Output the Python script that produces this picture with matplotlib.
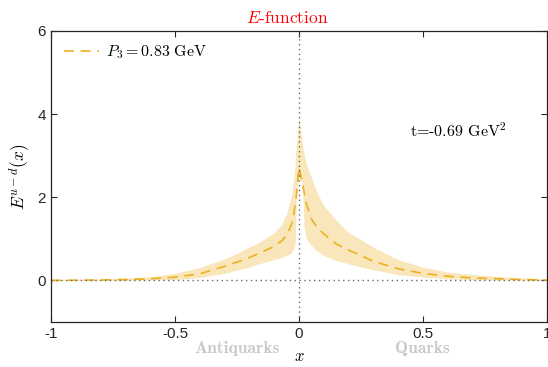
import numpy as np
import matplotlib
matplotlib.use("Agg")
import matplotlib.pyplot as plt

plt.rcParams['mathtext.fontset'] = 'cm'
plt.rcParams['font.family'] = ['Liberation Sans', 'DejaVu Sans']

# values
x = [-1.0, -0.9, -0.8, -0.7, -0.6, -0.5, -0.4, -0.3, -0.25, -0.2, -0.15, -0.1,
     -0.07, -0.05, -0.03, -0.02, -0.015, -0.01, 0.0, 0.01, 0.015, 0.02, 0.03,
     0.05, 0.07, 0.1, 0.15, 0.2, 0.25, 0.3, 0.4, 0.5, 0.6, 0.7, 0.8, 0.9, 1.0]
e_mid = [0.0, 0.005, 0.01, 0.02, 0.04, 0.08, 0.16, 0.34, 0.44, 0.55, 0.68, 0.82,
         0.95, 1.08, 1.35, 1.62, 1.85, 2.05, 2.72, 2.45, 2.3, 2.15, 1.85,
         1.48, 1.3, 1.12, 0.88, 0.73, 0.6, 0.46, 0.28, 0.17, 0.1, 0.06, 0.04, 0.02, 0.01]
e_hi = [0.02, 0.03, 0.04, 0.06, 0.09, 0.17, 0.31, 0.52, 0.65, 0.8, 0.95, 1.15,
        1.35, 1.6, 2.05, 2.5, 2.85, 3.3, 3.95, 3.5, 3.25, 3.05, 2.8,
        2.48, 2.15, 1.8, 1.45, 1.15, 0.98, 0.8, 0.5, 0.32, 0.2, 0.14, 0.1, 0.06, 0.04]
e_lo = [0.0, 0.0, 0.0, 0.005, 0.01, 0.02, 0.07, 0.17, 0.25, 0.32, 0.42, 0.5,
        0.55, 0.6, 0.66, 0.78, 0.9, 2.2, 2.5, 2.4, 2.3, 1.3, 1.0,
        0.84, 0.72, 0.6, 0.48, 0.4, 0.32, 0.26, 0.14, 0.08, 0.04, 0.02, 0.01, 0.005, 0.0]

xticks = [-1, -0.5, 0, 0.5, 1]
xticklabels = ['-1', '-0.5', '0', '0.5', '1']
yticks = [0, 2, 4, 6]

col = '#EDB120'

fig = plt.figure(figsize=(5.48, 3.67), dpi=100)
ax = fig.add_axes([0.093, 0.1226, 0.905, 0.793])

ax.fill_between(x, e_lo, e_hi, color=col, alpha=0.3, linewidth=0)
ax.plot(x, e_mid, color=col, lw=1.2, dashes=(6, 4), label=r'$P_3 = 0.83\ \mathrm{GeV}$')
ax.axvline(0, color='#666666', ls=(0, (1, 2.5)), lw=1)
ax.axhline(0, color='#666666', ls=(0, (1, 2.5)), lw=1)

ax.set_xlim(-1, 1)
ax.set_ylim(-1, 6)
ax.set_xticks(xticks)
ax.set_xticklabels(xticklabels)
ax.set_yticks(yticks)
ax.tick_params(direction='in', top=True, right=True, labelsize=11, length=4,
               color='#262626', labelcolor='#262626')
for s in ax.spines.values():
    s.set_color('#262626')
    s.set_linewidth(0.9)

ax.set_ylabel(r'$E^{u-d}(x)$', fontsize=12.5, labelpad=4)
ax.set_xlabel(r'$x$', fontsize=12, labelpad=6)

ax.text(0.476, 1.045, r'$E$-function', transform=ax.transAxes, color='red',
        fontsize=12.5, family='cmr10', ha='center', va='center')
ax.text(0.645, 3.61, r't=-0.69 GeV$^2$', family='cmr10', fontsize=11.5,
        ha='center', va='center')
ax.text(-0.25, -1.64, 'Antiquarks', family='cmb10', fontsize=12.5, color='#c8c8c8',
        ha='center', va='center')
ax.text(0.5, -1.64, 'Quarks', family='cmb10', fontsize=12.5, color='#c8c8c8',
        ha='center', va='center')

ax.legend(loc='upper left', frameon=False, fontsize=11.5, handlelength=2.2,
          borderaxespad=0.4, handletextpad=0.45)

fig.savefig('out.png', dpi=100)
